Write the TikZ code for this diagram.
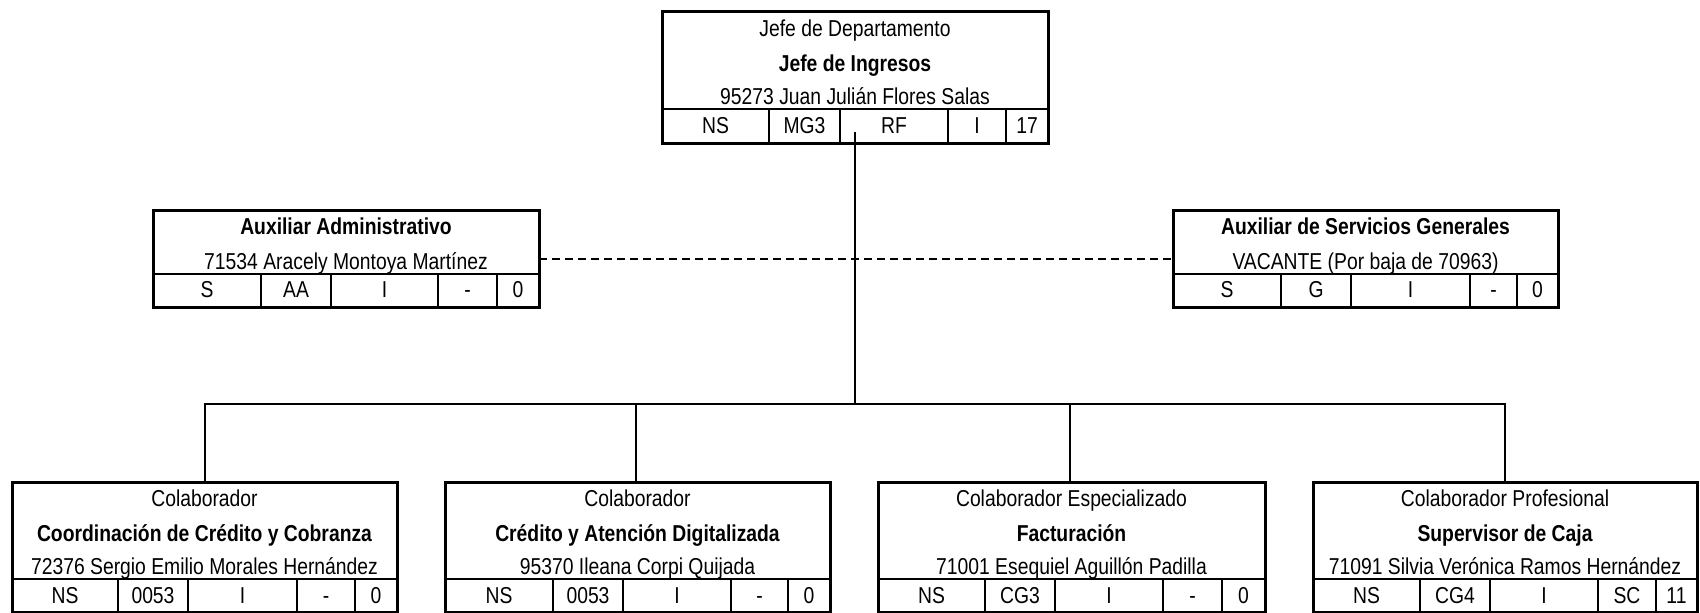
\documentclass[tikz,border=0pt]{standalone}
\usepackage{fontspec}
\newfontfamily\narrow{Liberation Sans}[FakeStretch=0.84]
\tikzset{
  frame/.style={draw, line width=3pt, inner sep=0pt, outer sep=0pt, anchor=north west},
  div/.style={line width=2.4pt},
  conn/.style={line width=2pt},
  dashconn/.style={line width=2pt, dash pattern=on 8pt off 5pt},
  txt/.style={inner sep=0pt, anchor=base, font=\narrow\fontsize{23}{27}\selectfont},
  btxt/.style={inner sep=0pt, anchor=base, font=\narrow\bfseries\fontsize{23}{27}\selectfont},
}
% #1 name, #2 left, #3 top, #4 right, #5 bottom, #6 row top
\newcommand{\OrgBox}[6]{%
  \node[frame, minimum width=\the\numexpr#4-#2\relax pt, minimum height=\the\numexpr#5-#3\relax pt] (#1) at (#2,#3) {};
  \draw[div] (#2,#6) -- (#4,#6);
}
% #1 name, #2 row top, #3 bottom, #4 baseline, #5 list left/right/text
\newcommand{\OrgCells}[5]{%
  \foreach \lx/\rx/\tx [count=\i] in {#5} {
    \draw[div] (\rx,#2) -- (\rx,#3);
    \node[txt] (#1-c\i) at ({(\lx+\rx)/2},#4) {\tx};
  }
}
\begin{document}
\begin{tikzpicture}[x=1pt,y=-1pt]
\useasboundingbox (0,0) rectangle (1700,613);

% top box
\OrgBox{top}{662}{11}{1048}{143}{109}
\node[txt]  (top-l1) at (855,36)  {Jefe de Departamento};
\node[btxt] (top-l2) at (855,71)  {Jefe de Ingresos};
\node[txt]  (top-l3) at (855,104) {95273 Juan Julián Flores Salas};
\OrgCells{top}{109}{143}{133}{662/769/NS, 769/840/MG3, 840/948/RF, 948/1006/I, 1006/1048/17}

% left staff box
\OrgBox{auxa}{153}{210}{539}{307}{274}
\node[btxt] (auxa-l1) at (346,234) {Auxiliar Administrativo};
\node[txt]  (auxa-l2) at (346,269) {71534 Aracely Montoya Martínez};
\OrgCells{auxa}{274}{307}{297}{153/261/S, 261/331/AA, 331/438/I, 438/497/-, 497/539/0}

% right staff box
\OrgBox{auxs}{1173}{210}{1558}{307}{274}
\node[btxt] (auxs-l1) at (1365.5,234) {Auxiliar de Servicios Generales};
\node[txt]  (auxs-l2) at (1365.5,269) {VACANTE (Por baja de 70963)};
\OrgCells{auxs}{274}{307}{297}{1173/1281/S, 1281/1351/G, 1351/1470/I, 1470/1517/-, 1517/1558/0}

% bottom boxes
\OrgBox{b1}{12}{482}{397}{612}{579}
\node[txt]  (b1-l1) at (204.5,506) {Colaborador};
\node[btxt] (b1-l2) at (204.5,541) {Coordinación de Crédito y Cobranza};
\node[txt]  (b1-l3) at (204.5,574) {72376 Sergio Emilio Morales Hernández};
\OrgCells{b1}{579}{612}{603}{12/118/NS, 118/188/0053, 188/297/I, 297/355/-, 355/397/0}

\OrgBox{b2}{445}{482}{830}{612}{579}
\node[txt]  (b2-l1) at (637.5,506) {Colaborador};
\node[btxt] (b2-l2) at (637.5,541) {Crédito y Atención Digitalizada};
\node[txt]  (b2-l3) at (637.5,574) {95370 Ileana Corpi Quijada};
\OrgCells{b2}{579}{612}{603}{445/553/NS, 553/623/0053, 623/731/I, 731/788/-, 788/830/0}

\OrgBox{b3}{878}{482}{1265}{612}{579}
\node[txt]  (b3-l1) at (1071.5,506) {Colaborador Especializado};
\node[btxt] (b3-l2) at (1071.5,541) {Facturación};
\node[txt]  (b3-l3) at (1071.5,574) {71001 Esequiel Aguillón Padilla};
\OrgCells{b3}{579}{612}{603}{878/985/NS, 985/1055/CG3, 1055/1163/I, 1163/1222/-, 1222/1265/0}

\OrgBox{b4}{1313}{482}{1697}{612}{579}
\node[txt]  (b4-l1) at (1505,506) {Colaborador Profesional};
\node[btxt] (b4-l2) at (1505,541) {Supervisor de Caja};
\node[txt]  (b4-l3) at (1505,574) {71091 Silvia Verónica Ramos Hernández};
\OrgCells{b4}{579}{612}{603}{1313/1420/NS, 1420/1490/CG4, 1490/1598/I, 1598/1656/SC, 1656/1697/11}

% connectors
\coordinate (stub) at (855,132);
\coordinate (bus) at (855,404);
\draw[conn] (stub) -- (bus);
\draw[conn] (b1.north) |- (bus) -| (b4.north);
\draw[conn] ([xshift=-1.5pt]b2.north) -- ([xshift=-1.5pt]b2.north |- bus);
\draw[conn] ([xshift=-1.5pt]b3.north) -- ([xshift=-1.5pt]b3.north |- bus);
\draw[dashconn] (auxa.east) -- (auxs.west);
\end{tikzpicture}
\end{document}
